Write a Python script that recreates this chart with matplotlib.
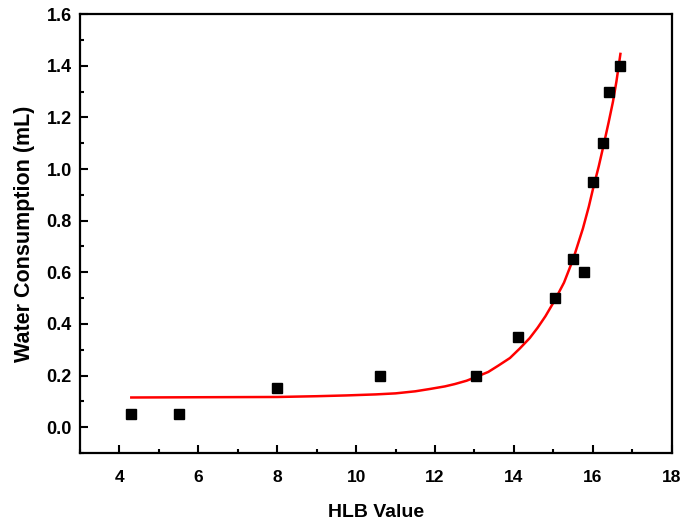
import matplotlib
matplotlib.use("Agg")
import matplotlib.pyplot as plt
from matplotlib.ticker import MultipleLocator, FormatStrFormatter

plt.rcParams['font.family'] = ['Liberation Sans', 'DejaVu Sans']
plt.rcParams['font.weight'] = 'bold'

# measured points
hlb = [4.3, 5.5, 8.0, 10.6, 13.05, 14.1, 15.03, 15.5, 15.77, 16.0, 16.27, 16.42, 16.7]
water = [0.05, 0.05, 0.15, 0.20, 0.20, 0.35, 0.50, 0.65, 0.60, 0.95, 1.10, 1.30, 1.40]

# exponential fit curve
fit_x = [4.3, 6.0, 8.0, 9.0, 9.75, 10.5, 11.0, 11.5, 11.87, 12.25, 12.5, 12.8,
         13.05, 13.35, 13.6, 13.9, 14.15, 14.4, 14.6, 14.8, 15.03, 15.27, 15.5,
         15.75, 15.9, 16.0, 16.15, 16.27, 16.4, 16.51, 16.6, 16.7]
fit_y = [0.115, 0.116, 0.117, 0.120, 0.123, 0.127, 0.131, 0.139, 0.148, 0.158, 0.167, 0.180,
         0.195, 0.214, 0.238, 0.268, 0.305, 0.345, 0.385, 0.43, 0.49, 0.56, 0.65,
         0.77, 0.855, 0.92, 1.01, 1.09, 1.18, 1.26, 1.34, 1.446]

fig = plt.figure(figsize=(6.84, 5.24), dpi=100)
ax = fig.add_axes([0.117, 0.1355, 0.865, 0.8375])

ax.plot(fit_x, fit_y, color='red', lw=1.8, zorder=2)
ax.plot(hlb, water, 's', color='black', ms=7, zorder=3)

ax.set_xlim(3, 18)
ax.set_ylim(-0.1, 1.6)
ax.set_xticks(range(4, 19, 2))
ax.xaxis.set_minor_locator(MultipleLocator(1))
ax.yaxis.set_major_locator(MultipleLocator(0.2))
ax.yaxis.set_minor_locator(MultipleLocator(0.1))
ax.yaxis.set_major_formatter(FormatStrFormatter('%.1f'))

ax.tick_params(which='both', direction='in', width=1.5, labelsize=12.5)
ax.tick_params(axis='y', labelsize=13, pad=6)
ax.tick_params(axis='x', pad=12)
ax.tick_params(which='major', length=6)
ax.tick_params(which='minor', length=3)
for s in ax.spines.values():
    s.set_linewidth(1.6)

ax.set_xlabel('HLB Value', fontsize=14, fontweight='bold', labelpad=14)
ax.set_ylabel('Water Consumption (mL)', fontsize=15.5, fontweight='bold', labelpad=8)

fig.savefig('out.png', dpi=100)
